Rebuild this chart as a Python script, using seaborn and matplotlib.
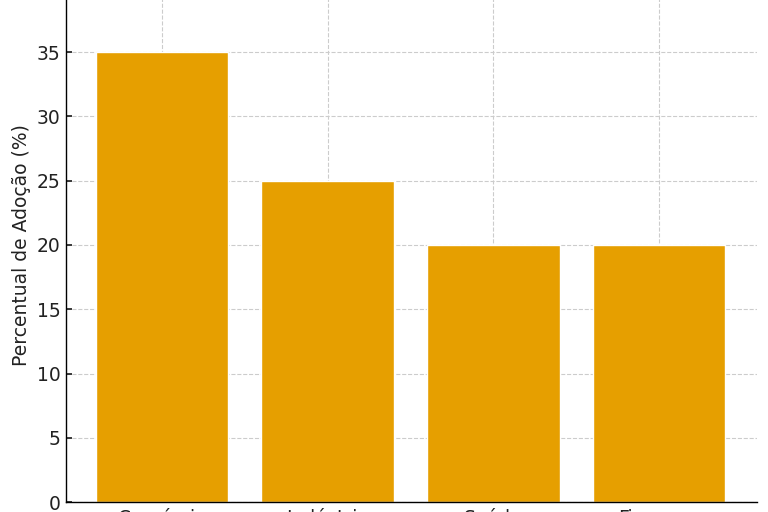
import matplotlib
matplotlib.use("Agg")
import matplotlib.pyplot as plt
import seaborn as sns
import pandas as pd

# Adoption share by sector
setores = ["Comércio", "Indústria", "Saúde", "Finanças"]
percentual = [35, 25, 20, 20]

df = pd.DataFrame({"Setor": setores, "Percentual": percentual})

sns.set_theme(style="ticks")
plt.rcParams['font.family'] = ['DejaVu Sans']

fig = plt.figure(figsize=(7.68, 5.12), dpi=100)
# axes top runs past the figure edge, like the cropped original
ax = fig.add_axes([65.5 / 768, 10 / 512, 691.5 / 768, 514 / 512])

sns.barplot(data=df, x="Setor", y="Percentual", color="#E69F00",
            saturation=1, width=0.8, ax=ax, zorder=2)

ax.set_xlim(-0.583, 3.592)
ax.set_ylim(0, 40)
ax.set_yticks([0, 5, 10, 15, 20, 25, 30, 35])
ax.grid(True, linestyle="--", color="#cccccc", linewidth=0.8, zorder=0)
ax.set_axisbelow(True)
ax.tick_params(labelsize=13.5, colors="#222222", direction="in", length=4)
ax.tick_params(axis="x", pad=5)
ax.set_xlabel("")
ax.set_ylabel("Percentual de Adoção (%)", fontsize=13.5, color="#222222", labelpad=4)
ax.spines["right"].set_visible(False)
ax.spines["top"].set_visible(False)
for s in ("left", "bottom"):
    ax.spines[s].set_color("black")
    ax.spines[s].set_linewidth(1.0)

fig.savefig("out.png", dpi=100)
